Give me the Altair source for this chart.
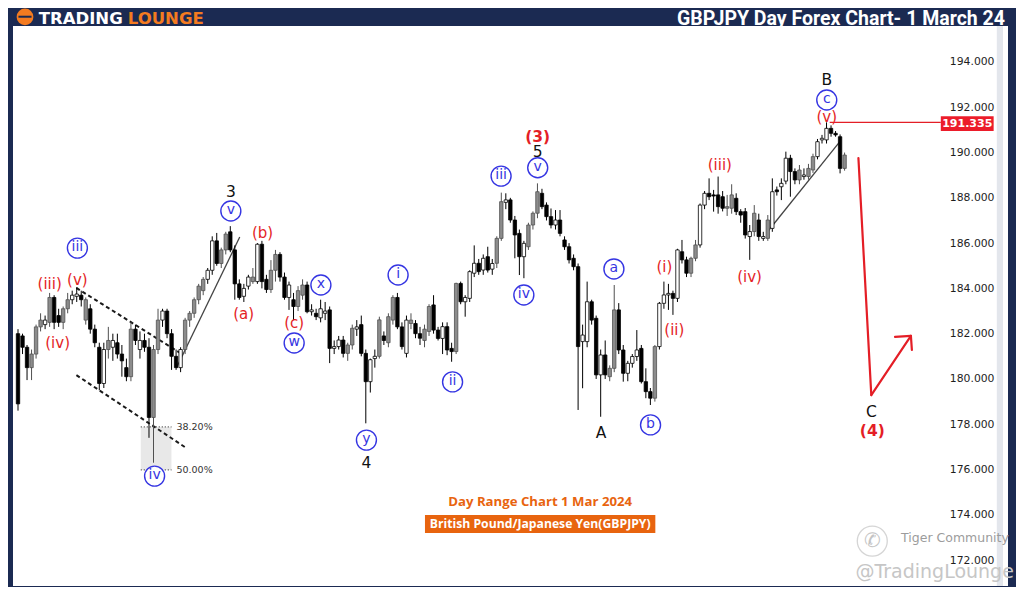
import altair as alt
import pandas as pd

# ---------------- candle data (open, high, low, close, body style) ----------------
SEG1 = [
    (182.0, 182.2, 178.6, 178.9, 'k'), (181.9, 182.0, 181.1, 181.4, 'k'), (181.4, 181.5, 179.95, 180.5, 'k'),
    (180.5, 181.3, 179.95, 181.1, 'g'), (181.1, 182.4, 180.9, 182.3, 'g'), (182.3, 182.9, 182.1, 182.6, 'g'),
    (182.4, 182.8, 182.2, 182.6, 'w'), (182.5, 183.8, 182.3, 183.6, 'g'), (183.6, 183.7, 182.2, 182.5, 'k'),
    (182.8, 183.1, 182.3, 182.5, 'k'), (182.5, 183.2, 182.2, 183.1, 'g'), (183.1, 183.8, 182.9, 183.5, 'g'),
    (183.5, 183.9, 183.3, 183.7, 'w'), (183.65, 184.05, 183.4, 183.75, 'w'), (183.7, 183.9, 183.2, 183.5, 'k'),
    (183.5, 183.6, 182.4, 182.6, 'g'), (183.1, 183.3, 182.0, 182.2, 'k'), (182.2, 182.4, 181.4, 181.6, 'k'),
    (181.4, 181.6, 179.5, 179.8, 'k'), (179.8, 181.6, 179.6, 181.3, 'w'), (181.3, 182.3, 180.9, 181.7, 'g'),
    (181.4, 182.0, 180.8, 181.7, 'w'), (181.6, 182.0, 180.9, 181.1, 'k'), (181.1, 181.5, 180.1, 180.8, 'k'),
    (180.5, 180.9, 179.9, 180.1, 'k'), (180.1, 182.5, 179.9, 182.2, 'g'), (182.2, 182.4, 181.5, 181.7, 'k'),
    (181.3, 182.1, 180.9, 181.7, 'w'), (181.7, 182.0, 181.2, 181.4, 'k'), (181.4, 181.8, 177.4, 178.3, 'k'),
    (178.3, 181.5, 176.3, 181.3, 'g'), (181.3, 183.1, 181.1, 182.6, 'g'), (182.6, 183.1, 182.3, 183.0, 'w'),
    (183.0, 183.1, 181.8, 182.0, 'k'), (182.0, 182.2, 180.4, 181.0, 'k'), (181.0, 181.3, 180.4, 180.5, 'k'),
    (180.5, 181.4, 180.3, 181.3, 'w'), (181.3, 182.7, 181.1, 182.6, 'g'), (182.6, 183.0, 182.3, 182.9, 'g'),
    (182.9, 183.6, 182.7, 183.5, 'g'), (183.5, 184.2, 183.3, 184.1, 'g'), (183.9, 184.5, 183.7, 184.4, 'g'),
    (184.4, 184.9, 184.2, 184.8, 'w'), (184.8, 186.3, 184.6, 186.1, 'w'), (186.1, 186.45, 185.0, 185.1, 'k'),
    (185.1, 185.8, 184.9, 185.7, 'g'),
]
SEG2 = [
    (185.7, 186.5, 185.5, 186.4, 'g'), (186.5, 186.75, 185.6, 185.7, 'k'), (185.7, 185.9, 183.5, 184.2, 'k'),
    (184.2, 184.4, 183.5, 183.6, 'k'), (183.65, 184.2, 183.4, 184.0, 'w'), (184.1, 184.6, 183.95, 184.5, 'w'),
    (184.5, 184.9, 184.2, 184.3, 'g'), (184.3, 186.0, 184.2, 185.95, 'w'), (185.95, 186.1, 184.0, 184.3, 'k'),
    (184.4, 184.6, 183.8, 183.95, 'k'), (183.95, 185.25, 183.8, 184.8, 'g'), (184.8, 185.7, 184.3, 185.5, 'g'),
    (185.5, 185.6, 184.3, 184.5, 'k'), (184.5, 184.7, 183.5, 183.6, 'k'), (183.6, 184.3, 183.05, 184.15, 'w'),
    (183.5, 183.8, 182.6, 183.2, 'k'), (183.2, 184.1, 183.0, 183.9, 'g'), (183.7, 184.4, 183.5, 184.15, 'g'),
    (184.15, 184.3, 182.9, 182.97, 'k'), (182.97, 183.3, 182.8, 183.05, 'w'), (182.9, 183.1, 182.6, 182.75, 'k'),
    (182.7, 183.5, 182.5, 183.1, 'w'), (182.9, 183.4, 182.6, 183.0, 'w'), (183.05, 183.2, 180.7, 181.35, 'k'),
    (181.35, 181.7, 181.1, 181.43, 'w'), (181.43, 181.9, 181.3, 181.72, 'w'), (181.72, 181.9, 180.95, 181.13, 'k'),
    (181.13, 181.6, 180.8, 181.5, 'g'), (181.5, 182.4, 181.3, 182.24, 'g'), (182.2, 182.6, 181.9, 182.3, 'w'),
    (182.4, 182.8, 181.0, 181.13, 'k'), (181.13, 181.3, 178.04, 179.88, 'k'), (179.88, 180.9, 179.4, 180.85, 'w'),
    (180.9, 181.3, 180.5, 181.0, 'w'), (181.0, 182.75, 180.9, 182.61, 'g'), (181.9, 182.1, 181.5, 181.7, 'k'),
    (181.6, 182.9, 181.4, 182.75, 'g'), (182.6, 183.7, 182.4, 183.6, 'g'), (183.6, 183.8, 182.2, 182.3, 'k'),
    (182.3, 182.5, 181.3, 181.43, 'k'), (181.13, 182.8, 180.95, 182.6, 'w'), (182.6, 182.9, 182.2, 182.45, 'g'),
    (182.45, 182.6, 181.8, 182.0, 'k'), (182.0, 182.3, 181.5, 181.8, 'k'), (181.7, 182.4, 181.4, 182.2, 'g'),
    (182.1, 183.3, 181.9, 183.2, 'g'),
]
SEG3 = [
    (183.27, 183.7, 182.0, 182.16, 'k'), (182.16, 182.3, 181.7, 181.79, 'k'), (181.79, 182.5, 181.1, 182.31, 'w'),
    (182.31, 182.5, 181.05, 181.28, 'k'), (181.35, 181.6, 180.76, 181.21, 'k'), (181.21, 184.25, 181.1, 184.22, 'g'),
    (184.22, 184.3, 183.3, 183.41, 'k'), (183.41, 183.7, 182.75, 183.6, 'w'), (183.56, 184.8, 183.4, 184.74, 'w'),
    (184.67, 185.9, 184.5, 185.11, 'w'), (185.11, 185.3, 184.6, 184.74, 'k'), (184.81, 185.5, 184.6, 185.33, 'w'),
    (185.4, 185.84, 184.7, 184.81, 'k'), (184.85, 185.3, 184.6, 185.1, 'w'), (185.11, 186.3, 184.9, 186.21, 'g'),
    (186.21, 188.23, 186.1, 187.83, 'g'), (187.8, 188.2, 187.5, 187.91, 'w'), (187.91, 188.0, 186.9, 187.02, 'k'),
    (187.02, 187.2, 185.33, 186.36, 'k'), (186.43, 186.6, 184.59, 185.4, 'k'), (185.4, 186.1, 184.45, 185.99, 'w'),
    (185.84, 186.9, 185.7, 186.8, 'g'), (186.8, 187.4, 186.6, 187.32, 'g'), (187.32, 188.64, 187.1, 188.27, 'g'),
    (188.2, 188.4, 187.5, 187.61, 'k'), (187.68, 187.8, 187.0, 187.17, 'k'), (187.17, 187.53, 186.65, 186.8, 'k'),
    (186.8, 187.46, 186.6, 187.02, 'w'), (187.02, 187.46, 186.3, 186.43, 'k'), (186.14, 186.3, 185.7, 185.84, 'k'),
    (185.84, 186.0, 185.1, 185.26, 'k'), (185.33, 185.5, 184.8, 184.96, 'k'), (184.96, 185.1, 178.63, 181.43, 'k'),
    (181.65, 182.4, 179.59, 181.94, 'w'), (181.65, 184.3, 181.4, 183.41, 'w'), (183.41, 183.5, 182.4, 182.6, 'k'),
    (182.68, 182.8, 180.0, 180.18, 'k'), (180.18, 181.3, 178.33, 181.06, 'w'), (181.06, 181.7, 180.0, 180.18, 'k'),
    (180.1, 180.6, 179.9, 180.47, 'g'), (180.47, 184.15, 180.3, 183.05, 'g'), (183.05, 183.35, 181.1, 181.28, 'k'),
    (181.28, 181.5, 179.88, 180.25, 'k'), (180.25, 180.8, 179.9, 180.69, 'w'), (180.69, 181.1, 180.5, 180.99, 'w'),
    (180.99, 182.16, 180.8, 181.28, 'w'),
]
SEG4 = [
    (181.35, 181.5, 179.8, 179.88, 'k'), (179.88, 180.47, 179.15, 179.44, 'k'), (179.44, 179.6, 178.85, 179.15, 'k'),
    (179.15, 181.5, 179.0, 181.43, 'g'), (181.43, 183.4, 181.3, 183.34, 'w'), (183.34, 184.3, 183.1, 183.71, 'w'),
    (183.71, 184.2, 183.05, 183.78, 'w'), (183.78, 183.9, 182.83, 183.56, 'k'), (183.56, 185.75, 183.4, 185.7, 'w'),
    (185.62, 186.14, 185.1, 185.26, 'k'), (185.26, 185.4, 184.5, 184.67, 'k'), (184.67, 185.4, 184.5, 185.33, 'g'),
    (185.33, 186.14, 185.2, 185.92, 'g'), (185.92, 187.75, 185.8, 187.68, 'w'), (187.68, 188.3, 187.5, 188.2, 'w'),
    (188.2, 188.86, 187.9, 188.05, 'k'), (188.13, 188.35, 187.39, 188.08, 'k'), (188.13, 188.94, 187.3, 187.61, 'k'),
    (188.05, 188.3, 187.4, 187.54, 'k'), (187.54, 188.13, 187.2, 187.61, 'g'), (187.54, 188.6, 187.3, 188.13, 'g'),
    (187.98, 188.2, 187.24, 187.39, 'k'), (187.39, 187.5, 186.9, 187.24, 'k'), (187.39, 187.55, 186.2, 186.36, 'k'),
    (186.29, 186.8, 185.26, 186.51, 'w'), (186.51, 187.68, 186.3, 187.32, 'g'), (187.02, 187.3, 186.1, 186.29, 'k'),
    (186.21, 186.5, 186.1, 186.29, 'w'), (186.21, 187.24, 186.1, 187.02, 'g'), (186.65, 188.86, 186.5, 188.27, 'w'),
    (188.35, 188.5, 188.1, 188.27, 'k'), (188.49, 188.86, 187.9, 188.64, 'w'), (188.74, 190.04, 188.6, 189.75, 'w'),
    (189.75, 189.9, 188.05, 189.16, 'k'), (189.16, 189.3, 188.6, 188.79, 'k'), (188.79, 189.45, 188.6, 189.23, 'g'),
    (188.94, 189.3, 188.8, 189.01, 'w'), (188.94, 189.5, 188.8, 189.3, 'g'), (189.23, 189.95, 189.1, 189.82, 'g'),
    (189.82, 190.6, 189.7, 190.48, 'w'), (190.56, 190.78, 190.4, 190.63, 'w'), (190.56, 191.335, 190.4, 191.07, 'w'),
    (191.07, 191.2, 190.7, 190.85, 'k'), (190.85, 190.95, 190.7, 190.78, 'k'), (190.7, 190.8, 189.08, 189.3, 'k'),
    (189.3, 190.0, 189.2, 189.89, 'g'),
]

Y_TICKS = [172, 174, 176, 178, 180, 182, 184, 186, 188, 190, 192, 194]
LAST_HIGH = 191.335

# wave labels: (text, bar index, price)
BLUE_LABELS = [("iii", 13.15, 185.78), ("iv", 30.24, 175.71), ("v", 47.12, 187.42), ("w", 61.14, 181.59),
               ("x", 67.06, 184.15), ("y", 77.14, 177.30), ("i", 84.15, 184.59), ("ii", 96.21, 179.87),
               ("iii", 106.95, 188.96), ("iv", 111.99, 183.71), ("v", 115.06, 189.33), ("a", 131.93, 184.86),
               ("b", 140.04, 177.97), ("c", 179.05, 192.32)]
RED_LABELS = [("(iii)", 7.01, 184.19), ("(v)", 13.15, 184.37), ("(iv)", 8.77, 181.59), ("(a)", 49.97, 182.87),
              ("(b)", 54.13, 186.45), ("(c)", 61.14, 182.47), ("(i)", 143.11, 184.95), ("(ii)", 145.3, 182.16),
              ("(iii)", 155.38, 189.45), ("(iv)", 161.95, 184.50), ("(v)", 179.05, 191.57)]
RED_BIG = [("(3)", 115.06, 190.68), ("(4)", 189.13, 177.70)]
BLACK_LABELS = [("3", 47.12, 188.26), ("5", 115.06, 190.02), ("4", 77.14, 176.29), ("A", 129.08, 177.61),
                ("B", 179.05, 193.2), ("C", 188.91, 178.54)]

# drawn lines: (i, p, i2, p2)
CHANNEL = [(12.93, 184.02, 36.6, 181.06), (12.93, 180.17, 37.26, 176.95)]
TRENDS = [(35.06, 180.48, 49.09, 186.27), (165.9, 186.49, 181.9, 190.47)]
PROJECTION = [(186.06, 189.76, 188.91, 179.29), (188.91, 179.29, 197.68, 181.9),
              (197.68, 181.9, 194.17, 181.86), (197.68, 181.9, 197.9, 181.28)]
FIB_BOX = [(27.18, 177.88, 33.97, 175.98)]
FIB_LEVELS = [("38.20%", 177.88), ("50.00%", 175.98)]

candles = pd.DataFrame(SEG1 + SEG2 + SEG3 + SEG4, columns=["o", "h", "l", "c", "kind"])
candles["i"] = list(range(len(candles)))

NAVY = "#1b2a52"
RED = "#e41e26"
BLUE = "#3535e2"

XS = alt.Scale(domain=[0, 218.07], nice=False, zero=False)
YS = alt.Scale(domain=[170.855, 195.59], nice=False, zero=False)
YAX = alt.Axis(values=Y_TICKS, format=".3f", orient="right", offset=-14, ticks=False, tickSize=0,
               domain=False, grid=False, labelAlign="right", labelPadding=0, labelColor="#1e1e1e",
               labelFont="DejaVu Sans", labelFontSize=10.8, title=None)


def X(f):
    return alt.X(f"{f}:Q", scale=XS, axis=None)


def Y(f):
    return alt.Y(f"{f}:Q", scale=YS, axis=YAX)


def segs(rows):
    return pd.DataFrame(rows, columns=["i", "p", "i2", "p2"])


def labels(rows):
    return pd.DataFrame(rows, columns=["t", "i", "p"])


KIND = ["w", "k", "g"]
stroke_enc = alt.Stroke("kind:N", scale=alt.Scale(domain=KIND, range=["#000000", "#000000", "#505050"]), legend=None)
fill_enc = alt.Fill("kind:N", scale=alt.Scale(domain=KIND, range=["#ffffff", "#000000", "#8c8c8c"]), legend=None)

strip = alt.Chart(segs([(216.7, 170.855, 218.07, 195.59)])).mark_rect(color="#e3e6ec").encode(
    x=X("i"), x2="i2:Q", y=Y("p"), y2="p2:Q")

fib_box = alt.Chart(segs(FIB_BOX)).mark_rect(color="#e8e8e8").encode(
    x=X("i"), x2="i2:Q", y=Y("p"), y2="p2:Q")
fib_df = pd.DataFrame([(FIB_BOX[0][0], p, FIB_BOX[0][2], t) for t, p in FIB_LEVELS], columns=["i", "p", "i2", "t"])
fib_lines = alt.Chart(fib_df).mark_rule(color="#444444", strokeDash=[1, 2], strokeWidth=1.2).encode(
    x=X("i"), x2="i2:Q", y=Y("p"))
fib_text = alt.Chart(fib_df).mark_text(align="left", baseline="middle", dx=5, font="DejaVu Sans",
                                       fontSize=9.5, color="#333333").encode(
    x=alt.X("i2:Q", scale=XS, axis=None), y=Y("p"), text="t:N")

channel = alt.Chart(segs(CHANNEL)).mark_rule(color="#1a1a1a", strokeDash=[4, 3], strokeWidth=2).encode(
    x=X("i"), x2="i2:Q", y=Y("p"), y2="p2:Q")
trends = alt.Chart(segs(TRENDS)).mark_rule(color="#444444", strokeWidth=1.3).encode(
    x=X("i"), x2="i2:Q", y=Y("p"), y2="p2:Q")

wicks = alt.Chart(candles).mark_rule(strokeWidth=1).encode(x=X("i"), y=Y("l"), y2="h:Q", stroke=stroke_enc)
bodies = alt.Chart(candles).mark_bar(size=3.4, strokeWidth=0.8, orient="vertical").encode(
    x=X("i"), y=Y("o"), y2="c:Q", fill=fill_enc, stroke=stroke_enc)

hline = alt.Chart(segs([(179.7, LAST_HIGH, 204.3, LAST_HIGH)])).mark_rule(color=RED, strokeWidth=1.2).encode(
    x=X("i"), x2="i2:Q", y=Y("p"))
tag = alt.Chart(segs([(204.3, 191.6, 216.0, 190.95)])).mark_rect(color="#ec1c2a").encode(
    x=X("i"), x2="i2:Q", y=Y("p"), y2="p2:Q")
tag_text = alt.Chart(pd.DataFrame([(f"{LAST_HIGH:.3f}", 210.15, 191.27)], columns=["t", "i", "p"])).mark_text(
    color="white", font="DejaVu Sans", fontSize=11, fontWeight="bold", baseline="middle").encode(
    x=X("i"), y=Y("p"), text="t:N")

proj = alt.Chart(segs(PROJECTION)).mark_rule(color=RED, strokeWidth=2.2, strokeCap="round").encode(
    x=X("i"), x2="i2:Q", y=Y("p"), y2="p2:Q")

circles = alt.Chart(labels(BLUE_LABELS)).mark_circle(size=400, color="white", stroke=BLUE, strokeWidth=1.4,
                                                      opacity=1).encode(x=X("i"), y=Y("p"))
blue_t = alt.Chart(labels(BLUE_LABELS)).mark_text(color=BLUE, font="DejaVu Sans", fontSize=14,
                                                  baseline="middle", dy=-1).encode(x=X("i"), y=Y("p"), text="t:N")
red_t = alt.Chart(labels(RED_LABELS)).mark_text(color=RED, font="DejaVu Sans", fontSize=15,
                                                baseline="middle").encode(x=X("i"), y=Y("p"), text="t:N")
red_big = alt.Chart(labels(RED_BIG)).mark_text(color=RED, font="DejaVu Sans", fontSize=15.5, fontWeight="bold",
                                               baseline="middle").encode(x=X("i"), y=Y("p"), text="t:N")
black_t = alt.Chart(labels(BLACK_LABELS)).mark_text(color="#111111", font="DejaVu Sans", fontSize=15.5,
                                                    baseline="middle").encode(x=X("i"), y=Y("p"), text="t:N")

# footer captions
cap_box = alt.Chart(segs([(90.1, 173.99, 141.1, 173.2)])).mark_rect(color="#e8640f").encode(
    x=X("i"), x2="i2:Q", y=Y("p"), y2="p2:Q")
cap_text = alt.Chart(pd.DataFrame([("Day Range Chart 1 Mar 2024", 115.6, 174.57, "#e8640f", 13.2),
                                   ("British Pound/Japanese Yen(GBPJPY)", 115.6, 173.6, "#ffffff", 12.2)],
                                  columns=["t", "i", "p", "col", "fs"])).mark_text(
    font="Open Sans", fontWeight="bold", baseline="middle").encode(
    x=X("i"), y=Y("p"), text="t:N", color=alt.Color("col:N", scale=None),
    size=alt.Size("fs:Q", scale=None, legend=None))

# watermark
wm_icon = alt.Chart(labels([("", 189.13, 172.84)])).mark_point(shape="circle", size=900, color="#c4c4c4",
                                                               strokeWidth=1.3).encode(x=X("i"), y=Y("p"))
wm_glyph = alt.Chart(labels([("\u2706", 189.13, 172.84)])).mark_text(
    color="#c4c4c4", fontSize=20, font="DejaVu Sans", baseline="middle").encode(x=X("i"), y=Y("p"), text="t:N")
wm_text = alt.Chart(pd.DataFrame([("Tiger Community", 195.5, 172.98, 12.5, "#9c9c9c"),
                                  ("@TradingLounge", 185.4, 171.47, 19, "#c6c6c6")],
                                 columns=["t", "i", "p", "fs", "col"])).mark_text(
    font="DejaVu Sans", align="left", baseline="middle").encode(
    x=X("i"), y=Y("p"), text="t:N", size=alt.Size("fs:Q", scale=None, legend=None),
    color=alt.Color("col:N", scale=None))

# header (drawn above the price range)
logo = alt.Chart(labels([("", 1.55, 195.99)])).mark_circle(size=280, color="#f47b20", opacity=1).encode(
    x=X("i"), y=Y("p"))
logo_bar = alt.Chart(segs([(0.1, 196.0, 3.0, 196.0)])).mark_rule(color=NAVY, strokeWidth=2).encode(
    x=X("i"), x2="i2:Q", y=Y("p"))
HEAD = pd.DataFrame([("TRADING", 4.6, 195.7, "#ffffff", "left"),
                     ("LOUNGE", 24.3, 195.7, "#f47b20", "left"),
                     ("GBPJPY Day Forex Chart- 1 March 24", 218.5, 195.65, "#ffffff", "right")],
                    columns=["t", "i", "p", "col", "al"])
head_logo = alt.Chart(HEAD).transform_filter("datum.al == 'left'").mark_text(
    font="DejaVu Sans", fontWeight="bold", fontSize=16.5, baseline="alphabetic", align="left").encode(
    x=X("i"), y=Y("p"), text="t:N", color=alt.Color("col:N", scale=None))
head_title = alt.Chart(HEAD).transform_filter("datum.al == 'right'").mark_text(
    font="Roboto", fontWeight="bold", fontSize=19.5, baseline="alphabetic", align="right").encode(
    x=X("i"), y=Y("p"), text="t:N", color=alt.Color("col:N", scale=None))

chart = alt.layer(
    strip, fib_box, fib_lines, channel, trends, wicks, bodies, hline, tag, tag_text, proj,
    circles, blue_t, red_t, red_big, black_t, fib_text, cap_box, cap_text, wm_icon, wm_glyph, wm_text,
    logo, logo_bar, head_logo, head_title,
).properties(
    width=995, height=560, background=NAVY,
    padding={"left": 5, "top": 18, "right": 8, "bottom": 1},
    autosize=alt.AutoSizeParams(type="none"),
).configure_view(fill="white", stroke=None)

chart.save("out.html", embed_options={"renderer": "svg", "actions": False})
